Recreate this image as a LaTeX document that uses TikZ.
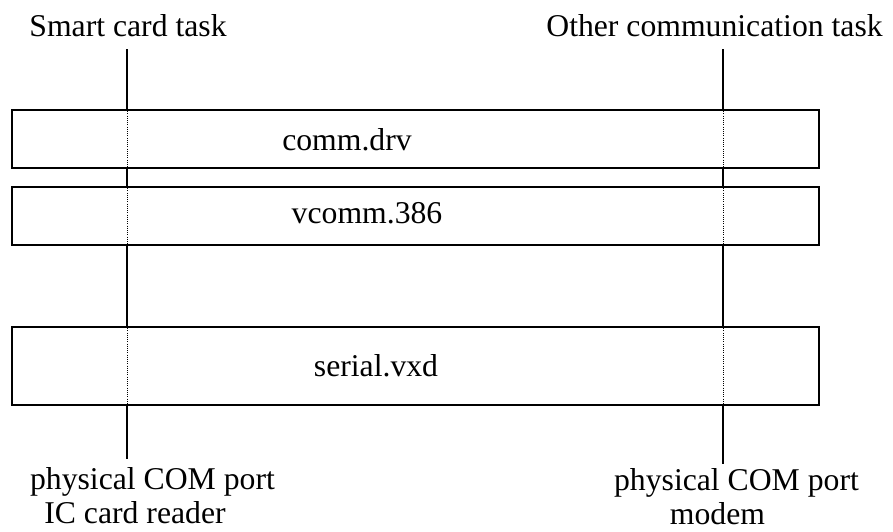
\documentclass[tikz,border=0pt]{standalone}
\usepackage{fontspec}
\setmainfont{Liberation Serif}
\begin{document}
\begin{tikzpicture}[x=1pt,y=-1pt,
  every node/.style={font=\fontsize{31.7}{36}\selectfont, inner sep=0pt},
  layer/.style={draw, line width=2pt, minimum width=807pt},
  txt/.style={anchor=base},
  wire/.style={line width=2.2pt},
  thru/.style={line width=0.8pt, dash pattern=on 1pt off 1.2pt}]
\useasboundingbox (0,0) rectangle (893,531);

% driver layers
\node[layer, minimum height=58pt] (comm)   at (415.5,139) {};
\node[layer, minimum height=58pt] (vcomm)  at (415.5,216) {};
\node[layer, minimum height=78pt] (serial) at (415.5,366) {};

\node[txt] (commtxt)   at (347,150) {comm.drv};
\node[txt] (vcommtxt)  at (367,223) {vcomm.386};
\node[txt] (serialtxt) at (376,376) {serial.vxd};

% task and port labels
\node[txt] (smart) at (128,36)   {Smart card task};
\node[txt] (other) at (714.5,36) {Other communication task};
\node[txt] (portA) at (152.5,489) {physical COM port};
\node[txt] (devA)  at (135,523)   {IC card reader};
\node[txt] (portB) at (736.5,490) {physical COM port};
\node[txt] (devB)  at (717.5,524) {modem};

% communication paths through the layers
\coordinate (aTop) at (127,49);
\coordinate (aBot) at (127,459);
\coordinate (bTop) at (723,49);
\coordinate (bBot) at (723,464);

\foreach \t/\b in {aTop/aBot, bTop/bBot} {
  \draw[wire] (\t) -- (\t |- comm.north);
  \draw[wire] (\t |- comm.south) -- (\t |- vcomm.north);
  \draw[wire] (\t |- vcomm.south) -- (\t |- serial.north);
  \draw[wire] (\t |- serial.south) -- (\b);
  \draw[thru] (\t |- comm.north) -- (\t |- comm.south);
  \draw[thru] (\t |- vcomm.north) -- (\t |- vcomm.south);
  \draw[thru] (\t |- serial.north) -- (\t |- serial.south);
}
\end{tikzpicture}
\end{document}
